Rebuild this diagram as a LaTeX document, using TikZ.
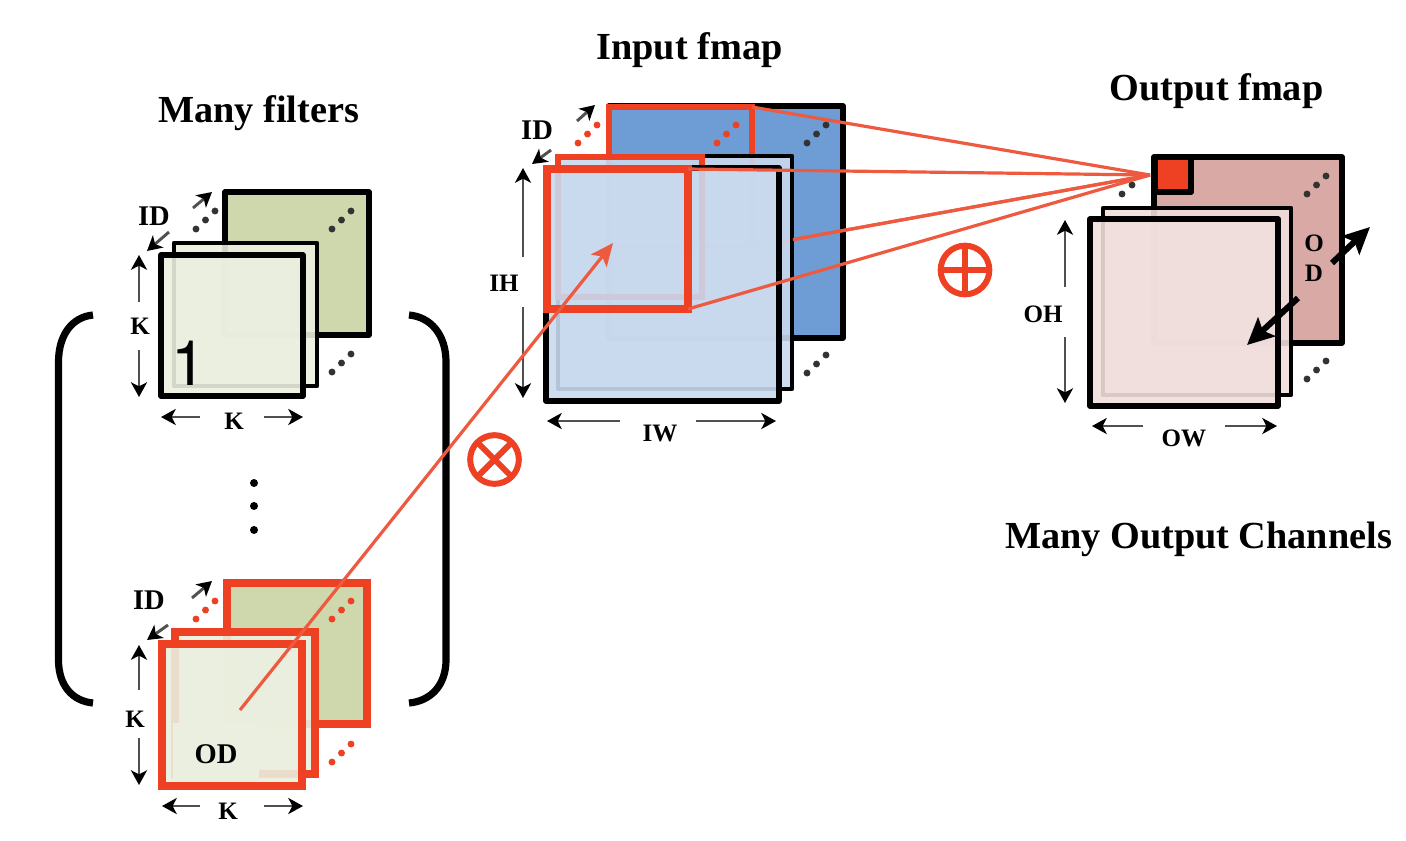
\documentclass[tikz,border=0pt]{standalone}
\usepackage{fontspec}
\setmainfont{Liberation Serif}
\newfontfamily\onefont{TeX Gyre Heros}
\usetikzlibrary{arrows.meta,calc}
\definecolor{rd}{HTML}{EE4023}
\definecolor{rdl}{HTML}{EE5A40}
\definecolor{gbk}{HTML}{CFD8AD}
\definecolor{gfr}{HTML}{EBEFDF}
\definecolor{bbk}{HTML}{6E9DD6}
\definecolor{bfr}{HTML}{C9D9EE}
\definecolor{pbk}{HTML}{D9A9A6}
\definecolor{pfr}{HTML}{F0DFDD}
\definecolor{dimgrey}{HTML}{505050}
\definecolor{dotgrey}{HTML}{333333}
\tikzset{
  sq/.style={draw=black,line width=4.2pt,inner sep=0pt,outer sep=0pt,rectangle,line join=round},
  sqmid/.style={sq,line width=3.2pt},
  sqred/.style={draw=rd,line width=5.6pt,inner sep=0pt,outer sep=0pt,rectangle,line join=miter},
  veil/.style={fill opacity=.9,draw opacity=1},
  titlet/.style={font=\fontsize{28.7pt}{30pt}\bfseries\selectfont,inner sep=0pt},
  lab/.style={font=\fontsize{18.8pt}{20pt}\bfseries\selectfont,inner sep=0pt},
  labb/.style={font=\fontsize{21.4pt}{23pt}\bfseries\selectfont,inner sep=0pt},
  dimarrow/.style={draw=dimgrey,line width=2.2pt,-{Stealth[length=11pt,width=12pt,inset=3pt,color=black]}},
  bigarrow/.style={draw=black,line width=4.5pt,-{Stealth[length=20pt,width=19pt,inset=4pt]}},
  fan/.style={draw=rdl,line width=2.4pt},
  pt/.style={circle,inner sep=0pt,minimum size=5.2pt,outer sep=0pt},
  sym/.style={circle,draw=rd,line width=4.5pt,inner sep=0pt,outer sep=0pt,minimum size=36.5pt},
  symline/.style={draw=rd,line width=4.5pt}
}
% #1 style, #2 name, #3..#6 x0 y0 x1 y1 in reference pixels
\newcommand\sqr[6]{\node[#1,minimum width={(#5-#3)*0.75pt},minimum height={(#6-#4)*0.75pt}] (#2) at ({(#3+#5)/2},{(#4+#6)/2}) {};}
% three dots: #1 colour, #2 name, then lowest-left dot
\newcommand\dotrow[4]{\node[pt,fill=#1] (#2a) at (#3,#4) {};\node[pt,fill=#1] (#2b) at (#3+9.5,#4-9) {};\node[pt,fill=#1] (#2c) at (#3+19,#4-18) {};}
% arrow between two named coordinates
\newcommand\conn[6]{\coordinate (#2s) at (#3,#4);\coordinate (#2e) at (#5,#6);\draw[#1] (#2s) -- (#2e);}
\begin{document}
\begin{tikzpicture}[x=0.75pt,y=-0.75pt]
\useasboundingbox (0,0) rectangle (1406,840);
% ---- titles
\node[titlet] (t1) at (258.5,113) {Many filters};
\node[titlet] (t2) at (689.5,50) {Input fmap};
\node[titlet] (t3) at (1216.5,91) {Output fmap};
\node[titlet] (t4) at (1198.5,539) {Many Output Channels};
% ---- brackets
\coordinate (bl1) at (93,315); \coordinate (bl2) at (58.5,362); \coordinate (bl3) at (58.5,660); \coordinate (bl4) at (93,703);
\draw[line width=5.4pt] (bl1) .. controls (72,317) and (58.5,335) .. (bl2) -- (bl3) .. controls (58.5,685) and (72,701) .. (bl4);
\coordinate (br1) at (409,315); \coordinate (br2) at (446,362); \coordinate (br3) at (446,660); \coordinate (br4) at (409,703);
\draw[line width=5.4pt] (br1) .. controls (431,317) and (446,335) .. (br2) -- (br3) .. controls (446,685) and (431,701) .. (br4);
% ---- top filter
\sqr{sq,fill=gbk}{fa}{225}{192}{369}{335}
\dotrow{dotgrey}{fad}{332}{229}
\sqr{sqmid,fill=gfr,veil}{fb}{174}{243}{317}{386}
\sqr{sq,fill=gfr,veil}{fc}{161}{255}{303}{396}
\dotrow{dotgrey}{fbd}{332}{372}
\dotrow{dotgrey}{fcd}{196}{229}
\node[font=\onefont\fontsize{47pt}{50pt}\selectfont,inner sep=0pt] (one) at (188.5,363) {1};
\conn{dimarrow}{a1}{193}{208}{212}{192}
\conn{dimarrow}{a2}{169}{232}{147}{251}
\conn{dimarrow}{a3}{139}{302}{139}{255}
\conn{dimarrow}{a4}{139}{350}{139}{397}
\conn{dimarrow}{a5}{200}{417}{161}{417}
\conn{dimarrow}{a6}{264}{417}{303}{417}
\node[labb] (l1) at (154,216) {ID};
\node[lab] (l2) at (140,326) {K};
\node[lab] (l3) at (234,421) {K};
% ---- dots between filters
\node[pt,fill=black,minimum size=6pt] (v1) at (254,483) {};
\node[pt,fill=black,minimum size=6pt] (v2) at (254,506) {};
\node[pt,fill=black,minimum size=6pt] (v3) at (254,530) {};
% ---- bottom filter
\sqr{sqred,fill=gbk}{ga}{227}{583}{367}{724}
\dotrow{rd}{gad}{332}{619}
\sqr{sqred,fill=gfr,veil}{gb}{175}{632}{315}{774}
\sqr{sqred,fill=gfr,veil}{gc}{162}{644}{302}{786}
\dotrow{rd}{gbd}{332}{762}
\dotrow{rd}{gcd}{196}{619}
\node[fill=gfr,minimum width=64.5pt,minimum height=44pt,inner sep=0pt] (odp) at (216,752.5) {};
\node[labb] (l4) at (216,754) {OD};
\conn{dimarrow}{b1}{192}{598}{212}{581}
\conn{dimarrow}{b2}{168}{625}{147}{640}
\conn{dimarrow}{b3}{139}{690}{139}{645}
\conn{dimarrow}{b4}{139}{738}{139}{785}
\conn{dimarrow}{b5}{200}{806}{162}{806}
\conn{dimarrow}{b6}{264}{806}{303}{806}
\node[labb] (l5) at (149,600) {ID};
\node[lab] (l6) at (135,719) {K};
\node[lab] (l7) at (228,811) {K};
% ---- input fmap
\coordinate (apex) at (1150,175);
\sqr{sq,fill=bbk}{ia}{609}{106}{843}{338}
\sqr{sqred,line width=5pt}{ira}{609}{107}{752}{247}
\dotrow{dotgrey}{iad}{807}{143}
\dotrow{rd}{iae}{717}{143}
\draw[fan] (ira.south east) -- (apex);
\sqr{sqmid,fill=bfr,veil}{ib}{558}{156}{792}{389}
\sqr{sqred,line width=5pt}{irb}{558}{157}{702}{297}
\sqr{sq,fill=bfr,veil}{ic}{546}{168}{779}{401}
\sqr{sqred,line width=5.4pt}{irc}{547}{169}{688}{309}
\dotrow{dotgrey}{ibd}{807}{373}
\dotrow{rd}{icd}{578}{143}
\conn{dimarrow}{c1}{577}{121}{595}{105}
\conn{dimarrow}{c2}{551}{150}{532}{164}
\conn{dimarrow}{c3}{523}{257}{523}{168}
\conn{dimarrow}{c4}{523}{307}{523}{398}
\conn{dimarrow}{c5}{620}{421}{547}{421}
\conn{dimarrow}{c6}{696}{421}{776}{421}
\node[labb] (l8) at (537,130) {ID};
\node[lab] (l9) at (504,283) {IH};
\node[lab] (l10) at (660,433) {IW};
% ---- output fmap
\sqr{sq,fill=pbk}{oa}{1154}{157}{1342}{343}
\dotrow{dotgrey}{oad}{1307}{194}
\sqr{sqmid,fill=pfr,veil}{ob}{1103}{208}{1291}{395}
\sqr{sq,fill=pfr,veil}{oc}{1090}{219}{1278}{406}
\dotrow{dotgrey}{obd}{1307}{379}
\node[pt,fill=dotgrey] (oe1) at (1122,194) {};
\node[pt,fill=dotgrey] (oe2) at (1132,185) {};
\sqr{sq,line width=4.4pt,fill=rd}{cell}{1155}{157}{1191}{192}
\conn{dimarrow}{d1}{1065}{287}{1065}{220}
\conn{dimarrow}{d2}{1065}{337}{1065}{403}
\conn{dimarrow}{d3}{1143}{426}{1092}{426}
\conn{dimarrow}{d4}{1225}{426}{1277}{426}
\conn{bigarrow}{d5}{1332}{263}{1370}{227}
\conn{bigarrow}{d6}{1298}{298}{1247}{345}
\node[lab] (l11) at (1314,243) {O};
\node[lab] (l12) at (1314,273) {D};
\node[lab] (l13) at (1043,314) {OH};
\node[lab] (l14) at (1184,438) {OW};
% ---- connecting red lines
\draw[fan] (ira.north east) -- (apex);
\draw[fan] (irc.north east) -- (apex);
\draw[fan] ($(ira.south east)!0.103!(apex)$) -- (apex);
\draw[fan] (irc.south east) -- (apex);
\conn{fan,-{Stealth[length=17pt,width=15pt,inset=4pt]}}{r}{240}{710}{613}{243}
% ---- operators
\node[sym] (times) at (494.5,459.5) {};
\draw[symline] (times.north east) -- (times.south west);
\draw[symline] (times.north west) -- (times.south east);
\node[sym] (plus) at (965,270) {};
\draw[symline] (plus.north) -- (plus.south);
\draw[symline] (plus.west) -- (plus.east);
\end{tikzpicture}
\end{document}
